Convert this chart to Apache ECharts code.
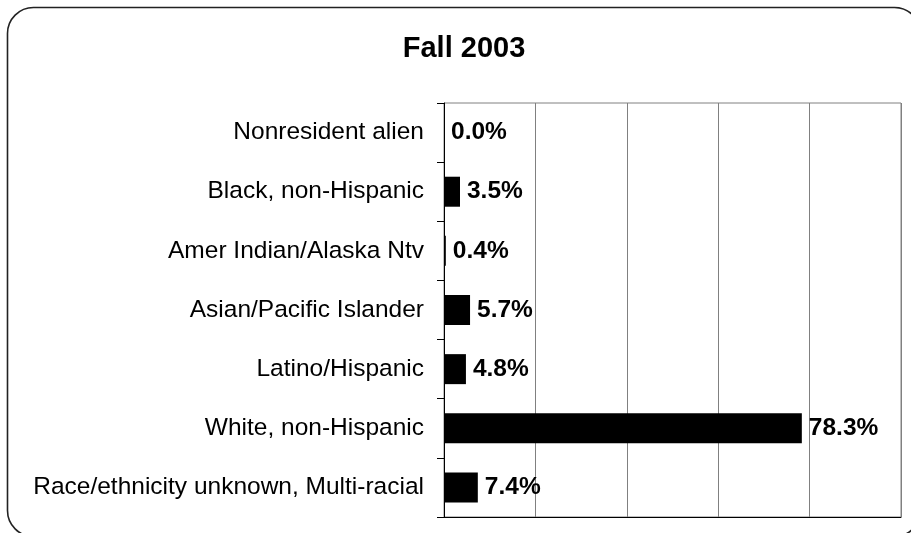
<!DOCTYPE html>
<html>
<head>
<meta charset="utf-8">
<script src="https://cdn.jsdelivr.net/npm/echarts@6/dist/echarts.min.js"></script>
<style>
html,body{margin:0;padding:0;background:#fff;}
#chart{width:911px;height:533px;}
</style>
</head>
<body>
<div id="chart"></div>
<script>
var titleText = 'Fall 2003';
var categories = [
  'Nonresident alien',
  'Black, non-Hispanic',
  'Amer Indian/Alaska Ntv',
  'Asian/Pacific Islander',
  'Latino/Hispanic',
  'White, non-Hispanic',
  'Race/ethnicity unknown, Multi-racial'
];
var values = [0.0, 3.5, 0.4, 5.7, 4.8, 78.3, 7.4];
var xMin = 0, xMax = 100, xInterval = 20;

var FONT = '"Liberation Sans", Arial, sans-serif';
var chart = echarts.init(document.getElementById('chart'), null, {renderer: 'canvas'});
chart.setOption({
  animation: false,
  backgroundColor: '#fff',
  graphic: [{
    type: 'rect',
    z: 100,
    shape: {x: 7.5, y: 7.5, width: 913, height: 529, r: 26},
    style: {fill: 'none', stroke: '#222', lineWidth: 1.6}
  }],
  title: {
    text: titleText,
    left: 459,
    textAlign: 'center',
    top: 29,
    textStyle: {fontFamily: FONT, fontWeight: 'bold', fontSize: 29, color: '#000'}
  },
  grid: {
    left: 444, right: 10, top: 103, bottom: 16,
    show: true, borderColor: '#808080', borderWidth: 1,
    containLabel: false
  },
  xAxis: {
    type: 'value',
    min: xMin, max: xMax, interval: xInterval,
    axisLine: {show: true, lineStyle: {color: '#000', width: 1}},
    axisTick: {show: false},
    axisLabel: {show: false},
    splitLine: {show: true, lineStyle: {color: '#808080', width: 1}}
  },
  yAxis: {
    type: 'category',
    data: categories,
    inverse: true,
    axisLine: {show: true, lineStyle: {color: '#000', width: 1}},
    axisTick: {show: true, length: 7, inside: false, lineStyle: {color: '#000'}},
    axisLabel: {margin: 20, color: '#000', fontFamily: FONT, fontSize: 24.5},
    splitLine: {show: false}
  },
  series: [{
    type: 'bar',
    data: values,
    barWidth: 30,
    itemStyle: {color: '#000'},
    label: {
      show: true,
      position: 'right',
      distance: 7,
      color: '#000',
      fontFamily: FONT,
      fontWeight: 'bold',
      fontSize: 24.5,
      formatter: function (p) { return p.value.toFixed(1) + '%'; }
    }
  }]
});
</script>
</body>
</html>
